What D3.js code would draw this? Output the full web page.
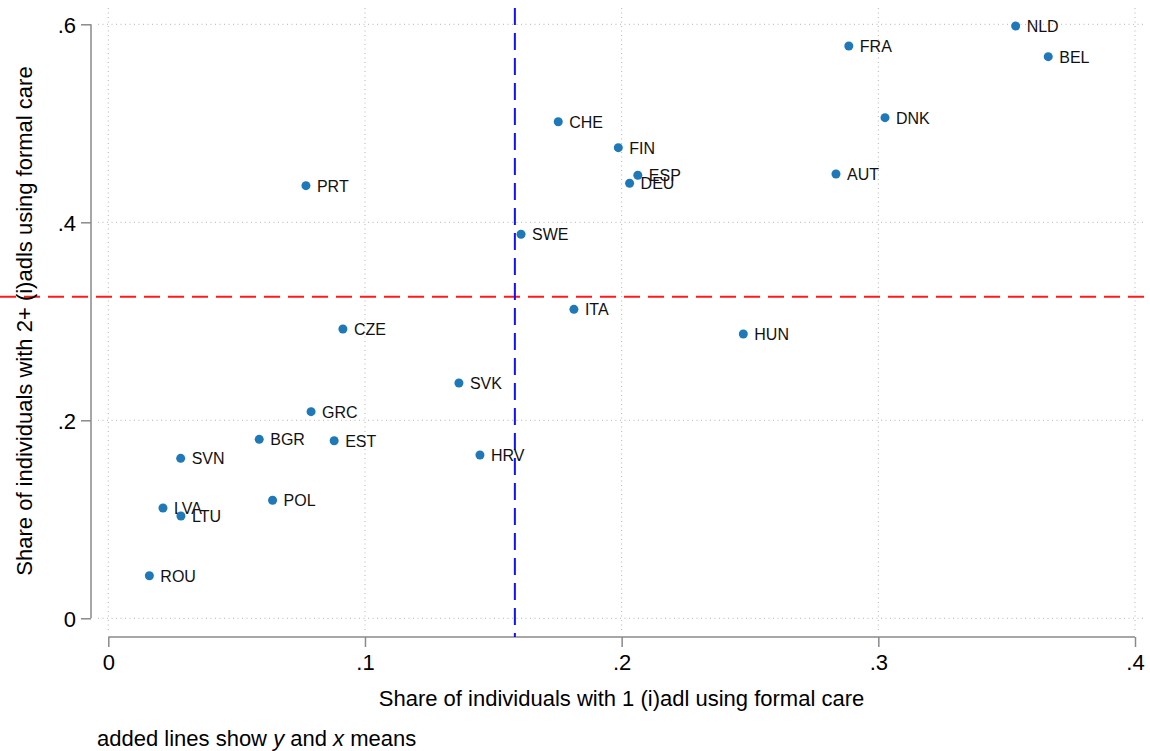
<!DOCTYPE html>
<html>
<head>
<meta charset="utf-8">
<script src="https://cdn.jsdelivr.net/npm/d3@7"></script>
<style>
  body { margin: 0; background: #fff; }
  svg { font-family: "Liberation Sans", Arial, Helvetica, sans-serif; }
</style>
</head>
<body>
<svg width="1150" height="751"></svg>
<script>
// country codes with share using formal care (1 adl on x, 2+ adls on y)
const countries = ['NLD','BEL','FRA','DNK','AUT','CHE','FIN','ESP','DEU','PRT','SWE','ITA','HUN',
  'CZE','SVK','GRC','BGR','EST','HRV','SVN','POL','LVA','LTU','ROU'];
const share1 = [0.3535,0.3662,0.2885,0.3026,0.2835,0.1753,0.1987,0.2063,0.2031,0.0770,0.1608,0.1814,0.2474,
  0.0914,0.1366,0.0790,0.0588,0.0880,0.1448,0.0282,0.0640,0.0213,0.0283,0.0160];
const share2 = [0.5983,0.5673,0.5781,0.5057,0.4488,0.5016,0.4754,0.4475,0.4394,0.4370,0.3879,0.3121,0.2872,
  0.2922,0.2377,0.2087,0.1808,0.1794,0.1650,0.1616,0.1192,0.1114,0.1033,0.0430];
const xMean = 0.1584;
const yMean = 0.3248;
const xTicks = [0, 0.1, 0.2, 0.3, 0.4];
const yTicks = [0, 0.2, 0.4, 0.6];

const svg = d3.select('svg');

x = d3.scaleLinear().domain([0, 0.4]).range([108.3, 1135]);
y = d3.scaleLinear().domain([0, 0.6]).range([618.3, 24.3]);

const fmt = d => d == 0 ? '0' : d3.format('.1f')(d).replace(/^0/, '');

// dotted grid
svg.append('g').selectAll('line')
  .data(xTicks)
  .enter().append('line')
  .attr('x1', d => x(d)).attr('x2', d => x(d))
  .attr('y1', 8).attr('y2', 630)
  .attr('stroke', '#b5b5b5')
  .attr('stroke-dasharray', '1,3.5');
svg.append('g').selectAll('line')
  .data(yTicks)
  .enter().append('line')
  .attr('x1', 98).attr('x2', 1146)
  .attr('y1', d => y(d)).attr('y2', d => y(d))
  .attr('stroke', '#b5b5b5')
  .attr('stroke-dasharray', '1,3.5');

// axes (stata style, detached)
const yAxis = svg.append('g')
  .attr('transform', 'translate(91,0)')
  .call(d3.axisLeft(y).tickValues(yTicks).tickSize(10).tickPadding(5).tickFormat(fmt));
const xAxis = svg.append('g')
  .attr('transform', 'translate(0,637)')
  .call(d3.axisBottom(x).tickValues(xTicks).tickSize(10).tickPadding(7).tickFormat(fmt));

[xAxis, yAxis].forEach(a => {
  a.select('.domain').attr('stroke', '#8a8a8a').attr('stroke-width', 1.5)
    .attr('d', a === xAxis ? `M${x(0)},0H${x(0.4)}` : `M0,${y(0)}V${y(0.6)}`);
  a.selectAll('.tick line').attr('stroke', '#8a8a8a').attr('stroke-width', 1.5);
  a.selectAll('.tick text').attr('fill', '#000').style('font-size', '22px')
    .style('font-family', '"Liberation Sans", Arial, sans-serif');
});
yAxis.selectAll('.tick text').attr('dy', '0.36em');

// mean lines
svg.append('line')
  .attr('x1', 0).attr('x2', 1150)
  .attr('y1', y(yMean)).attr('y2', y(yMean))
  .attr('stroke', '#ff1a1a').attr('stroke-width', 2)
  .attr('stroke-dasharray', '16,8');
svg.append('line')
  .attr('x1', x(xMean)).attr('x2', x(xMean))
  .attr('y1', 8).attr('y2', 637)
  .attr('stroke', '#1010ff').attr('stroke-width', 2)
  .attr('stroke-dasharray', '17,8');

// points and labels
const pts = svg.append('g').selectAll('g')
  .data(countries)
  .enter().append('g');
pts.append('circle')
  .attr('cx', (d,i) => x(share1[i]))
  .attr('cy', (d,i) => y(share2[i]))
  .attr('r', 4.5)
  .attr('fill', '#1f78b8');
pts.append('text')
  .text(d => d)
  .attr('x', (d,i) => x(share1[i]) + 11)
  .attr('y', (d,i) => y(share2[i]) + 6)
  .style('font-size', '16px')
  .attr('fill', '#111');

// titles
svg.append('text')
  .text('Share of individuals with 2+ (i)adls using formal care')
  .attr('transform', 'translate(32,321) rotate(-90)')
  .style('text-anchor', 'middle')
  .style('font-size', '22px');
svg.append('text')
  .text('Share of individuals with 1 (i)adl using formal care')
  .attr('x', 621.5).attr('y', 706)
  .style('text-anchor', 'middle')
  .style('font-size', '22px');

const note = svg.append('text')
  .attr('x', 97).attr('y', 746)
  .style('font-size', '22px');
note.append('tspan').text('added lines show ');
note.append('tspan').text('y').style('font-style', 'italic');
note.append('tspan').text(' and ');
note.append('tspan').text('x').style('font-style', 'italic');
note.append('tspan').text(' means');
</script>
</body>
</html>
